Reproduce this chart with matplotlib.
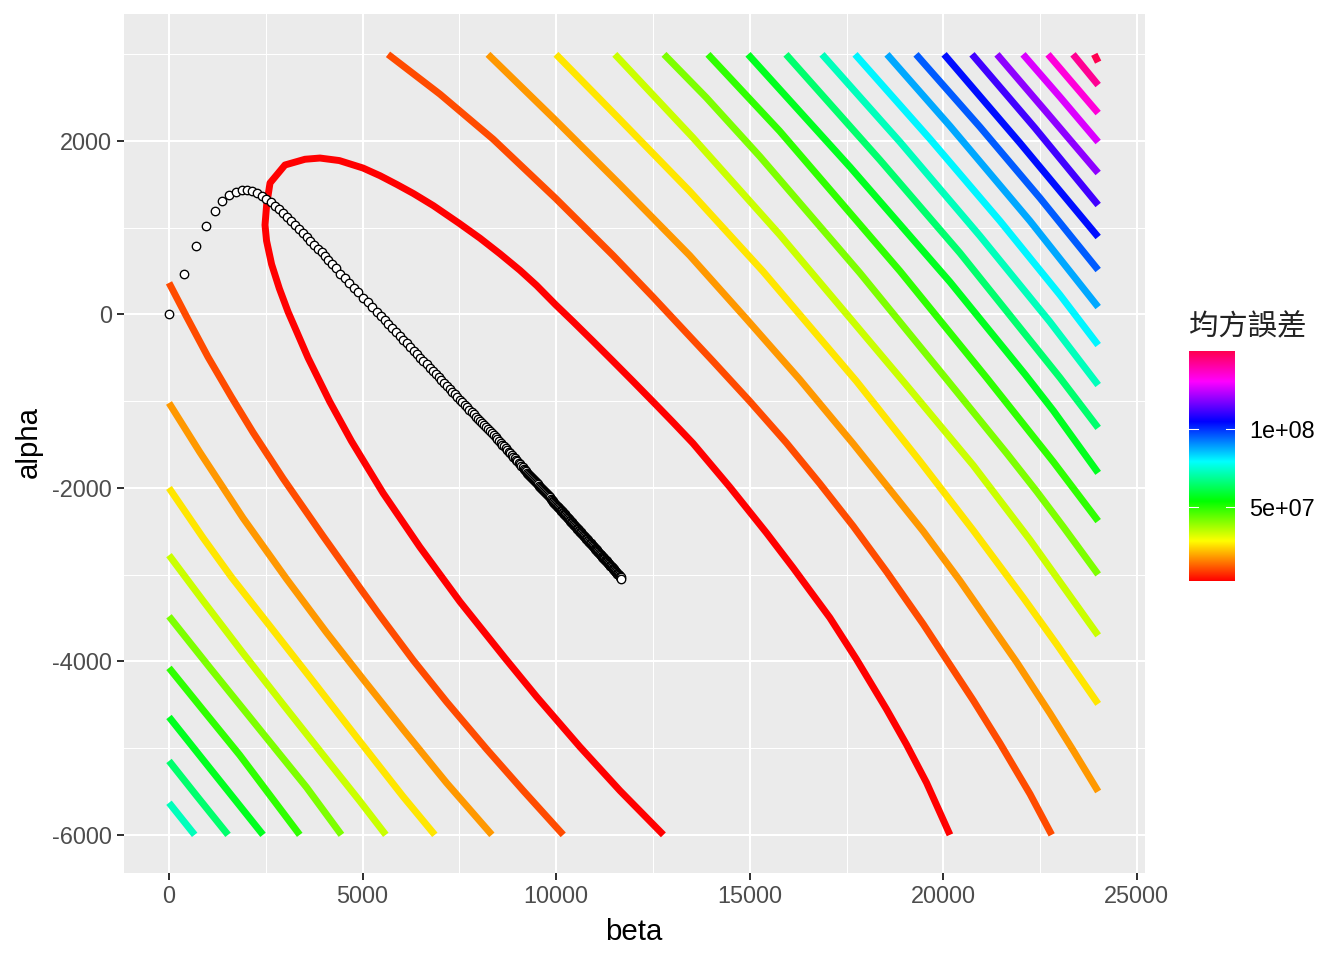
import numpy as np
import matplotlib
matplotlib.use("Agg")
import matplotlib.pyplot as plt
from matplotlib.colors import LinearSegmentedColormap, Normalize

# contour levels (mean squared error)
mse_levels = [2.2e6, 1.0e7, 1.78e7, 2.56e7, 3.34e7, 4.12e7, 4.9e7, 5.68e7, 6.46e7, 7.24e7,
              8.02e7, 8.8e7, 9.58e7, 1.036e8, 1.114e8, 1.192e8, 1.27e8, 1.348e8, 1.426e8, 1.502e8]

# innermost contour
c01_beta = [12770, 11647, 10613, 9500, 8675, 7512, 6478, 5531, 4712, 4152, 3592, 3291, 3076, 2850, 2650, 2520,
            2480, 2522, 2609, 2996, 3513, 3900, 4400, 5011, 5453, 5883, 6313, 6829, 7500, 8033, 8549, 9065,
            9495, 9985, 10441, 10957, 11473, 11989, 12591, 13021, 13534, 14483, 15431, 16120, 17069, 17758,
            18534, 19051, 19568, 20172]
c01_alpha = [-6000, -5490, -4985, -4410, -3960, -3310, -2680, -2060, -1460, -1005, -500, -190, 30, 300, 580, 850,
             1032, 1262, 1516, 1724, 1790, 1804, 1775, 1689, 1600, 1500, 1395, 1255, 1050, 880, 700, 510,
             335, 113, -83, -310, -540, -772, -1046, -1244, -1485, -1988, -2517, -2920, -3496, -3976,
             -4552, -4960, -5400, -6000]

# lower left pieces
c02a_beta = [0, 448, 1008, 1611, 2171, 2946, 3980, 4928, 5445, 6306, 7168, 8201, 9149, 10183]
c02a_alpha = [365, -20, -490, -950, -1360, -1890, -2555, -3150, -3470, -3985, -4465, -5010, -5490, -6000]
c03a_beta = [0, 793, 1913, 3033, 4066, 5014, 6048, 7168, 8340]
c03a_alpha = [-1020, -1585, -2347, -3047, -3665, -4205, -4785, -5400, -6000]
c04a_beta = [0, 879, 1611, 2602, 3636, 4928, 6048, 6866]
c04a_alpha = [-2000, -2574, -3027, -3590, -4180, -4921, -5559, -6000]
c05a_beta = [0, 879, 1913, 2946, 3894, 4928, 5600]
c05a_alpha = [-2775, -3300, -3905, -4495, -5030, -5610, -6000]
c06a_beta = [0, 1051, 2516, 3549, 4454]
c06a_alpha = [-3480, -4070, -4880, -5450, -6000]
c07a_beta = [0, 879, 1826, 3377]
c07a_alpha = [-4075, -4560, -5080, -6000]
c08a_beta = [0, 1051, 2429]
c08a_alpha = [-4641, -5230, -6000]
c09a_beta = [0, 706, 1525]
c09a_alpha = [-5148, -5545, -6000]
c10a_beta = [0, 663]
c10a_alpha = [-5630, -6000]

# upper right pieces
c02b_beta = [5657, 7001, 8377, 9985, 11473, 12505, 14053, 15000, 15948, 16810, 17672, 18534, 19482, 20775,
             21465, 22241, 22800]
c02b_alpha = [3000, 2540, 2020, 1340, 680, 200, -540, -1000, -1480, -1950, -2440, -2965, -3570, -4450,
              -4945, -5530, -6000]
c03b_beta = [8240, 9985, 11645, 13451, 14913, 16293, 17672, 19482, 20430, 21896, 22758, 23361, 24000]
c03b_alpha = [3000, 2240, 1500, 680, -50, -750, -1490, -2500, -3070, -4010, -4600, -5030, -5500]
c04b_beta = [9996, 11645, 13451, 15343, 17758, 19396, 20775, 22068, 22930, 24000]
c04b_alpha = [3000, 2249, 1421, 497, -770, -1691, -2490, -3266, -3803, -4490]
c05b_beta = [11516, 13537, 15773, 18965, 20775, 22241, 23016, 24000]
c05b_alpha = [3000, 2038, 921, -770, -1740, -2600, -3085, -3700]
c06b_beta = [12786, 13881, 15266, 17849, 20129, 21637, 22413, 23103, 24000]
c06b_alpha = [3000, 2500, 1820, 478, -770, -1600, -2040, -2450, -2997]
c07b_beta = [13922, 15773, 18882, 21120, 22844, 24000]
c07b_alpha = [3000, 2115, 500, -730, -1700, -2382]
c08_beta = [14956, 17590, 20173, 22111, 22844, 24000]
c08_alpha = [3000, 1701, 375, -690, -1110, -1826]
c09_beta = [15937, 18365, 20432, 23016, 24000]
c09_alpha = [3000, 1781, 709, -730, -1307]
c10_beta = [16867, 18882, 20948, 22756, 24000]
c10_alpha = [3000, 1989, 905, -86, -813]
c11_beta = [17720, 19657, 21465, 23015, 24000]
c11_alpha = [3000, 2024, 1078, 225, -352]
c12_beta = [18546, 20173, 22240, 24000]
c12_alpha = [3000, 2173, 1078, 86]
c13_beta = [19295, 20948, 22498, 24000]
c13_alpha = [3000, 2162, 1343, 513]
c14_beta = [20020, 21982, 24000]
c14_alpha = [3000, 1977, 894]
c15_beta = [20741, 22369, 24000]
c15_alpha = [3000, 2150, 1263]
c16_beta = [21387, 22705, 24000]
c16_alpha = [3000, 2312, 1632]
c17_beta = [22059, 23015, 24000]
c17_alpha = [3000, 2508, 1989]
c18_beta = [22705, 24000]
c18_alpha = [3000, 2323]
c19_beta = [23350, 24000]
c19_alpha = [3000, 2646]
c20_beta = [23900, 24000]
c20_alpha = [3000, 2910]

# path of the descent, circle by circle
path_beta = [0, 387, 697, 956, 1188, 1369, 1550, 1731, 1886, 2015, 2144, 2273, 2402, 2506, 2635, 2738,
             2850, 2953, 3056, 3151, 3255, 3358, 3461, 3565, 3651, 3745, 3841, 3944, 4030, 4115, 4219, 4315,
             4425, 4546, 4657, 4779, 4890, 5019, 5140, 5251, 5365, 5468, 5571, 5665, 5768,
             5865, 5960, 6052, 6143, 6232, 6320, 6406, 6490, 6573, 6654, 6734, 6812, 6888, 6963, 7037, 7109,
             7180, 7250, 7318, 7385, 7451, 7515, 7578, 7640, 7701, 7760, 7818, 7875, 7931, 7986, 8040, 8093,
             8145, 8196, 8246, 8295, 8343, 8390, 8436, 8481, 8525, 8568, 8611, 8653, 8694, 8735, 8775, 8814,
             8852, 8889, 8926, 8962, 8997, 9032, 9066, 9099, 9132, 9164, 9195, 9226, 9256,
             9281, 9306, 9331, 9356, 9381, 9406, 9431, 9456, 9481, 9506, 9531, 9556, 9581, 9606, 9631,
             9656, 9681, 9706, 9731, 9756, 9781, 9806, 9831, 9856, 9881, 9906, 9931, 9956, 9981, 10006,
             10024, 10042, 10060, 10078, 10096, 10114, 10132, 10150, 10168, 10186, 10204, 10222, 10240, 10258,
             10276, 10294, 10312, 10330, 10348, 10366, 10384, 10402, 10420, 10438, 10456, 10474, 10492, 10510,
             10528, 10546, 10564, 10582, 10600, 10618, 10636, 10654, 10672, 10690, 10708, 10726, 10744, 10762,
             10780, 10798, 10816, 10834, 10852, 10870, 10888, 10906, 10924, 10942, 10960, 10978, 10996,
             11010, 11024, 11038, 11052, 11066, 11080, 11094, 11108, 11122, 11136, 11150, 11164, 11178, 11192,
             11206, 11220, 11234, 11248, 11262, 11276, 11290, 11304, 11318, 11332, 11346, 11360, 11374, 11388,
             11402, 11416, 11430, 11444, 11458, 11472, 11486, 11500, 11514, 11528, 11542, 11556, 11570, 11584,
             11598, 11612, 11626, 11640, 11654, 11668, 11682]
path_alpha = [0, 467, 790, 1020, 1193, 1309, 1378, 1412, 1435, 1435, 1424, 1401, 1366, 1332, 1297, 1251,
              1213, 1167, 1120, 1078, 1032, 986, 940, 897, 851, 805, 759, 717, 671, 628, 582, 536,
              470, 421, 367, 309, 259, 194, 141, 90, 32, -17, -63, -110, -156,
              -202, -247, -290, -333, -375, -417, -457, -497, -536, -574, -612, -649, -685, -720, -755, -789,
              -822, -856, -888, -919, -950, -981, -1010, -1040, -1068, -1096, -1124, -1151, -1177, -1203, -1228, -1253,
              -1278, -1302, -1326, -1349, -1371, -1394, -1415, -1437, -1457, -1478, -1500, -1521, -1542, -1562, -1582, -1601,
              -1621, -1639, -1658, -1676, -1693, -1711, -1728, -1744, -1761, -1777, -1792, -1808, -1823,
              -1835, -1848, -1860, -1873, -1885, -1898, -1910, -1923, -1935, -1948, -1960, -1973, -1985, -1998, -2010,
              -2023, -2035, -2048, -2060, -2073, -2085, -2098, -2110, -2123, -2135, -2148, -2160, -2173, -2185, -2198,
              -2207, -2216, -2225, -2234, -2243, -2252, -2261, -2270, -2279, -2288, -2297, -2306, -2315, -2324,
              -2333, -2342, -2351, -2360, -2369, -2378, -2387, -2396, -2405, -2414, -2423, -2432, -2441, -2450,
              -2459, -2468, -2477, -2486, -2495, -2504, -2513, -2522, -2531, -2540, -2549, -2558, -2567, -2576,
              -2585, -2594, -2603, -2612, -2621, -2630, -2639, -2648, -2657, -2666, -2675, -2684, -2693,
              -2700, -2707, -2714, -2721, -2728, -2735, -2742, -2749, -2756, -2763, -2770, -2777, -2784, -2791,
              -2798, -2805, -2812, -2819, -2826, -2833, -2840, -2847, -2854, -2861, -2868, -2875, -2882, -2889,
              -2896, -2903, -2910, -2917, -2924, -2931, -2938, -2945, -2952, -2959, -2966, -2973, -2980, -2987,
              -2994, -3001, -3008, -3015, -3022, -3030, -3045]

x_ticks = [0, 5000, 10000, 15000, 20000, 25000]
y_ticks = [-6000, -4000, -2000, 0, 2000]
legend_ticks = [5e7, 1e8]
legend_labels = ["5e+07", "1e+08"]

contours = [(0, c01_beta, c01_alpha), (1, c02a_beta, c02a_alpha), (1, c02b_beta, c02b_alpha),
            (2, c03a_beta, c03a_alpha), (2, c03b_beta, c03b_alpha), (3, c04a_beta, c04a_alpha),
            (3, c04b_beta, c04b_alpha), (4, c05a_beta, c05a_alpha), (4, c05b_beta, c05b_alpha),
            (5, c06a_beta, c06a_alpha), (5, c06b_beta, c06b_alpha), (6, c07a_beta, c07a_alpha),
            (6, c07b_beta, c07b_alpha), (7, c08a_beta, c08a_alpha), (7, c08_beta, c08_alpha),
            (8, c09a_beta, c09a_alpha), (8, c09_beta, c09_alpha), (9, c10a_beta, c10a_alpha),
            (9, c10_beta, c10_alpha), (10, c11_beta, c11_alpha), (11, c12_beta, c12_alpha),
            (12, c13_beta, c13_alpha), (13, c14_beta, c14_alpha), (14, c15_beta, c15_alpha),
            (15, c16_beta, c16_alpha), (16, c17_beta, c17_alpha), (17, c18_beta, c18_alpha),
            (18, c19_beta, c19_alpha), (19, c20_beta, c20_alpha)]

W, H = 1344, 960
plt.rcParams['font.family'] = ['Liberation Sans', 'DejaVu Sans']
plt.rcParams['axes.unicode_minus'] = False

rainbow = LinearSegmentedColormap.from_list("rainbow_r", [
    (0.0, "#FF0000"), (0.1736, "#FFFF00"), (0.347, "#00FF00"), (0.52, "#00FFFF"),
    (0.694, "#0000FF"), (0.868, "#FF00FF"), (1.0, "#FF0050")], N=512)
norm = Normalize(min(mse_levels), max(mse_levels))

fig = plt.figure(figsize=(W / 192, H / 192), dpi=192)
ax = fig.add_axes([124 / W, 1 - 873 / H, 1021 / W, 859 / H])
ax.set_facecolor("#EBEBEB")
ax.set_xlim(-1162, 25210)
ax.set_ylim(-6440, 3465)
for s in ax.spines.values():
    s.set_visible(False)

ax.set_xticks(x_ticks)
ax.set_yticks(y_ticks)
ax.set_xticks([2500, 7500, 12500, 17500, 22500], minor=True)
ax.set_yticks([-5000, -3000, -1000, 1000, 3000], minor=True)
ax.grid(True, which="major", color="white", lw=0.75, zorder=1)
ax.grid(True, which="minor", color="white", lw=0.38, zorder=1)
ax.set_axisbelow(True)
ax.tick_params(which="major", length=2.75, width=0.75, color="#333333", labelcolor="#4D4D4D",
               labelsize=8.8, pad=1.8)
ax.tick_params(which="minor", length=0)

for lev, b, a in contours:
    ax.plot(b, a, color=rainbow(norm(mse_levels[lev])), lw=2.6, solid_capstyle="butt",
            solid_joinstyle="round", zorder=2)

ax.scatter(path_beta, path_alpha, s=10, facecolor="white", edgecolor="black", linewidth=0.5, zorder=3)

fig.text(634 / W, 1 - 932 / H, "beta", fontsize=11, color="black", ha="center", va="center")
fig.text(29 / W, 1 - 442 / H, "alpha", fontsize=11, color="black", ha="center", va="center", rotation=90)

# legend
cax = fig.add_axes([1189 / W, 1 - 581 / H, 46 / W, 230 / H])
grad = np.linspace(norm.vmin, norm.vmax, 512).reshape(-1, 1)
cax.imshow(grad, origin="lower", aspect="auto", cmap=rainbow, norm=norm,
           extent=[0, 1, norm.vmin, norm.vmax])
cax.set_xticks([])
cax.set_yticks([])
for s in cax.spines.values():
    s.set_visible(False)
for v, lab in zip(legend_ticks, legend_labels):
    cax.plot([0, 0.2], [v, v], color="white", lw=0.4)
    cax.plot([0.8, 1], [v, v], color="white", lw=0.4)
    cax.annotate(lab, (1.31, v), xycoords=cax.get_yaxis_transform(), xytext=(0, -1),
                 textcoords="offset points", fontsize=8.8, color="black", ha="left", va="center")
cax.set_xlim(0, 1)
cax.set_ylim(norm.vmin, norm.vmax)

fig.text(1189 / W, 1 - 327 / H, "均方誤差", fontsize=11, color="#222222", ha="left", va="center",
         family=["Noto Sans CJK TC", "DejaVu Sans"])

fig.savefig("out.png", dpi=192)
